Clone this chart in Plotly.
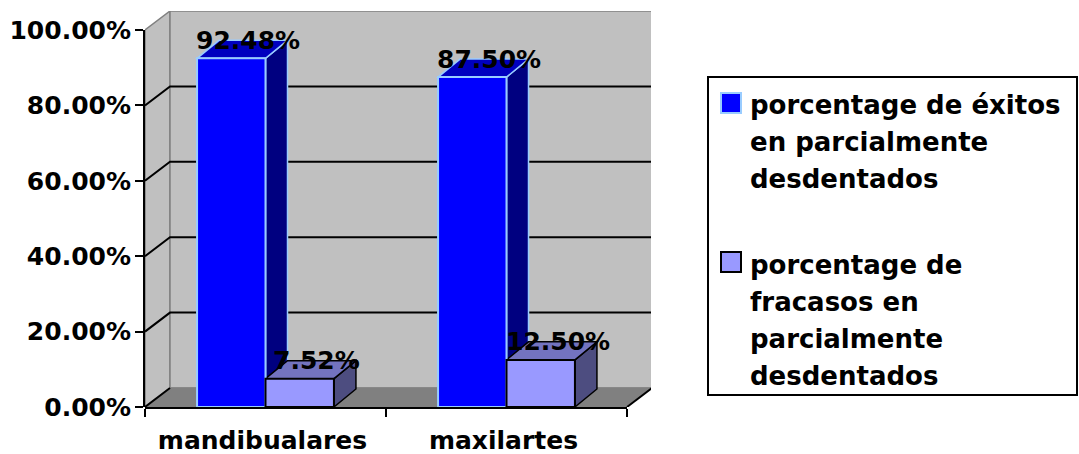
import plotly.graph_objects as go

# ---- data ----
categories = ["mandibualares", "maxilartes"]
series_names = [
    "porcentage de éxitos<br>en parcialmente<br>desdentados",
    "porcentage de<br>fracasos en<br>parcialmente<br>desdentados",
]
exitos = [92.48, 87.50]
fracasos = [7.52, 12.50]
y_ticks = [0.0, 0.2, 0.4, 0.6, 0.8, 1.0]

# ---- canvas / projection setup ----
W, H = 1079, 454
FONT = "DejaVu Sans"
PX_X0, PX_XF, PX_XB = 145, 627, 651     # front axis start, front end, back wall end
PX_Y0, PX_Y1, PX_YT = 407, 30, 11       # 0%, 100% (front), top of back wall
UX = (PX_XF - PX_X0) / 2.0              # pixels per category
UY = (PX_Y0 - PX_Y1) / 1.0              # pixels per 100%
WALL_DX, WALL_DY = 25 / UX, 19 / UY     # depth of the chart box
BAR_DX, BAR_DY = 22 / UX, 18 / UY       # depth of each bar
BAR_W = 0.284

x_lo, x_hi = -0.5, -0.5 + (PX_XB - PX_X0) / UX
y_lo, y_hi = 0.0, (PX_Y0 - PX_YT) / UY

front_colors = ["#0000FF", "#9999FF"]
top_colors = ["#0000BF", "#7373BF"]
side_colors = ["#000080", "#4D4D80"]
edge_colors = ["#99CCFF", "#000000"]
offsets = [-BAR_W, 0.0]


def px(p):
    return p / W


def py(p):
    return 1 - p / H


def path(pts):
    return "M " + " L ".join(f"{a:.5f},{b:.5f}" for a, b in pts) + " Z"


shapes = []
# side wall, back wall, floor
shapes.append(dict(type="path", xref="x", yref="y", layer="below",
                   path=path([(-0.5, 0), (-0.5 + WALL_DX, WALL_DY),
                              (-0.5 + WALL_DX, 1 + WALL_DY), (-0.5, 1)]),
                   fillcolor="#C0C0C0", line=dict(color="#808080", width=1.5)))
shapes.append(dict(type="path", xref="x", yref="y", layer="below",
                   path=path([(-0.5 + WALL_DX, WALL_DY), (1.5 + WALL_DX, WALL_DY),
                              (1.5 + WALL_DX, 1 + WALL_DY), (-0.5 + WALL_DX, 1 + WALL_DY)]),
                   fillcolor="#C0C0C0", line=dict(color="#808080", width=1.5)))
shapes.append(dict(type="path", xref="x", yref="y", layer="below",
                   path=path([(-0.5, 0), (1.5, 0), (1.5 + WALL_DX, WALL_DY),
                              (-0.5 + WALL_DX, WALL_DY)]),
                   fillcolor="#808080", line=dict(color="#808080", width=1)))
# floor edges
shapes.append(dict(type="line", xref="x", yref="y", layer="below",
                   x0=-0.5, y0=0, x1=-0.5 + WALL_DX, y1=WALL_DY,
                   line=dict(color="black", width=2)))
shapes.append(dict(type="line", xref="x", yref="y", layer="below",
                   x0=1.5, y0=0, x1=1.5 + WALL_DX, y1=WALL_DY,
                   line=dict(color="black", width=2)))
# gridlines on walls
for v in y_ticks[1:-1]:
    shapes.append(dict(type="path", xref="x", yref="y", layer="below",
                       path=f"M -0.5,{v} L {-0.5 + WALL_DX},{v + WALL_DY} L {1.5 + WALL_DX},{v + WALL_DY}",
                       line=dict(color="black", width=2)))

# top and side faces of the bars
for i in range(len(categories)):
    for s, vals in enumerate([exitos, fracasos]):
        v = vals[i] / 100
        x0 = i + offsets[s]
        x1 = x0 + BAR_W
        shapes.append(dict(type="path", xref="x", yref="y", layer="below",
                           path=path([(x1, 0), (x1 + BAR_DX, BAR_DY),
                                      (x1 + BAR_DX, v + BAR_DY), (x1, v)]),
                           fillcolor=side_colors[s],
                           line=dict(color=edge_colors[s], width=1.5)))
        shapes.append(dict(type="path", xref="x", yref="y", layer="below",
                           path=path([(x0, v), (x0 + BAR_DX, v + BAR_DY),
                                      (x1 + BAR_DX, v + BAR_DY), (x1, v)]),
                           fillcolor=top_colors[s],
                           line=dict(color=edge_colors[s], width=1.5)))

fig = go.Figure()
for s, vals in enumerate([exitos, fracasos]):
    fig.add_trace(go.Bar(
        x=list(range(len(categories))), y=[v / 100 for v in vals],
        width=BAR_W, offset=offsets[s],
        marker=dict(color=front_colors[s], line=dict(color=edge_colors[s], width=2)),
        name=series_names[s].replace("<br>", " "), showlegend=False,
        hoverinfo="skip",
    ))
# empty traces so the front axes get their own subplots
fig.add_trace(go.Scatter(x=[None], y=[None], xaxis="x2", yaxis="y",
                         showlegend=False, hoverinfo="skip"))
fig.add_trace(go.Scatter(x=[None], y=[None], xaxis="x", yaxis="y2",
                         showlegend=False, hoverinfo="skip"))

annotations = []
for s, vals in enumerate([exitos, fracasos]):
    for i, v in enumerate(vals):
        annotations.append(dict(
            x=i + offsets[s] + BAR_W / 2, y=v / 100, xref="x", yref="y",
            text=f"{v:.2f}%", showarrow=False, xshift=17, yshift=18,
            yanchor="middle", xanchor="center",
            font=dict(family=FONT, size=25, color="black", weight="bold"),
        ))

# legend box
shapes.append(dict(type="rect", xref="paper", yref="paper", layer="above",
                   x0=px(708), x1=px(1077), y0=py(395), y1=py(77),
                   fillcolor="white", line=dict(color="black", width=2)))
legend_rows = [(103, 105), (262, 265)]   # (swatch centre, first line centre)
LINE_STEP = 37
for s, name in enumerate(series_names):
    sw_c, first = legend_rows[s]
    shapes.append(dict(type="rect", xref="paper", yref="paper", layer="above",
                       x0=px(721), x1=px(741), y0=py(sw_c + 10), y1=py(sw_c - 10),
                       fillcolor=front_colors[s], line=dict(color=edge_colors[s], width=2)))
    for k, line in enumerate(name.split("<br>")):
        annotations.append(dict(
            x=px(748), y=py(first + k * LINE_STEP), xref="paper", yref="paper",
            text=line, showarrow=False, xanchor="left", yanchor="middle",
            font=dict(family=FONT, size=26, color="black", weight="bold"),
        ))

fig.update_layout(
    width=W, height=H, autosize=False,
    margin=dict(l=0, r=0, t=0, b=0, pad=0, autoexpand=False),
    paper_bgcolor="white", plot_bgcolor="rgba(0,0,0,0)",
    barmode="overlay",
    shapes=shapes, annotations=annotations,
    showlegend=False,
    xaxis=dict(domain=[px(PX_X0), px(PX_XB)], range=[x_lo, x_hi], visible=False,
               fixedrange=True, automargin=False),
    yaxis=dict(domain=[py(PX_Y0), py(PX_YT)], range=[y_lo, y_hi], visible=False,
               fixedrange=True, automargin=False),
    # front value axis (0 - 100 %)
    yaxis2=dict(domain=[py(PX_Y0), py(PX_Y1)], range=[0, 1], anchor="x",
                tickmode="array", tickvals=y_ticks, tickformat=".2%",
                showline=True, linecolor="black", linewidth=2,
                ticks="outside", ticklen=8, tickwidth=2, tickcolor="black",
                showgrid=False, zeroline=False, ticklabelstandoff=-1,
                fixedrange=True, automargin=False,
                tickfont=dict(family=FONT, size=25, color="black", weight="bold")),
    # front category axis
    xaxis2=dict(domain=[px(PX_X0), px(PX_XF)], range=[-0.5, 1.5], anchor="y",
                tickmode="array", tickvals=list(range(len(categories))), ticktext=categories,
                ticks="", showline=True, linecolor="black", linewidth=2,
                showgrid=False, zeroline=False, fixedrange=True, automargin=False,
                ticklabelstandoff=10, ticklabelshift=-3,
                minor=dict(tickmode="array", tickvals=[-0.5, 0.5, 1.5], ticks="outside",
                           ticklen=8, tickwidth=2, tickcolor="black", showgrid=False),
                tickfont=dict(family=FONT, size=25, color="black", weight="bold")),
)

fig.write_html("out.html")
